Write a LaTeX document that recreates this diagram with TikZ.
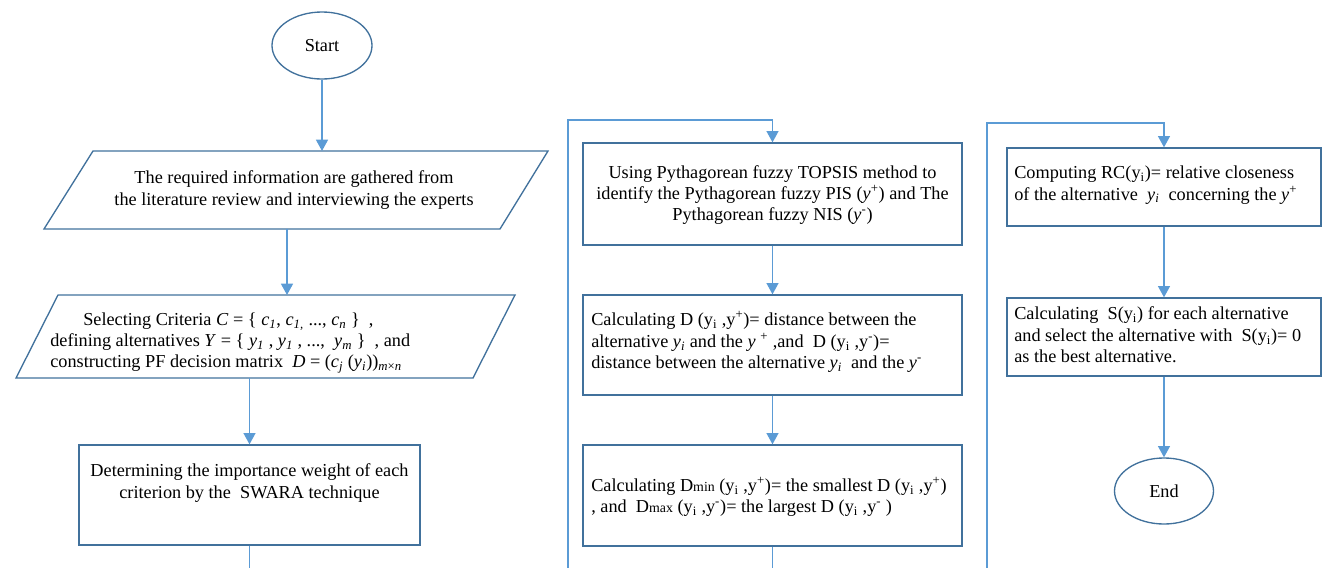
\documentclass[tikz,border=0pt]{standalone}
\usepackage{fontspec}
\setmainfont{Liberation Serif}
\usetikzlibrary{arrows.meta,shapes.geometric}
\definecolor{conn}{HTML}{5B9BD5}
\definecolor{bord}{HTML}{41719C}
\newdimen\pxu \pxu=0.75pt
\newcommand{\isub}[2]{\textit{#1}\textsubscript{\textit{#2}}}
\newcommand{\dsub}[1]{{\fontsize{10.4}{10.4}\selectfont #1}}
\begin{document}
\begin{tikzpicture}[x=0.75pt,y=-0.75pt,
  box/.style={draw=bord,line width=1pt,rectangle,inner sep=0pt},
  term/.style={draw=bord,line width=1pt,ellipse,inner sep=0pt,font=\fontsize{13.7}{16}\selectfont},
  arr/.style={draw=conn,line width=1.1pt,-{Triangle[length=8.5pt,width=9pt]}},
  lin/.style={draw=conn,line width=1.1pt},
  txtc/.style={inner sep=0pt,font=\fontsize{13.7}{16}\selectfont,align=center},
  txtl/.style={inner sep=0pt,font=\fontsize{13.7}{16}\selectfont,align=left,anchor=west}]
\useasboundingbox (0,0) rectangle (1322,568);

% terminals
\node[term,minimum width=100\pxu,minimum height=67\pxu] (start) at (322,45.5) {Start};
\node[term,minimum width=99\pxu,minimum height=66\pxu] (end) at (1164,491) {End};

% parallelogram 1
\draw[bord,line width=1pt] (93,151) -- (548,151) -- (500,229) -- (44,229) -- cycle;
\node[txtc] (p1) at (294,190) {The required information are gathered from\\the literature review and interviewing the experts};
\coordinate (p1t) at (322,151);
\coordinate (p1b) at (287,229);

% parallelogram 2
\draw[bord,line width=1pt] (58,295) -- (515,295) -- (473,378) -- (16,378) -- cycle;
\node[txtl] (p2) at (50,343) {\hspace*{33\pxu}Selecting Criteria \textit{C} = \{ \isub{c}{1}, \isub{c}{1,} ..., \isub{c}{n} \}~ ,\\
defining alternatives \textit{Y} = \{ \isub{y}{1} , \isub{y}{1} , ..., ~\isub{y}{m} \}~ , and\\
constructing PF decision matrix ~\textit{D} = (\isub{c}{j} (\isub{y}{i}))\textsubscript{\textit{m}×\textit{n}}};
\coordinate (p2t) at (287,295);
\coordinate (p2b) at (249.5,378);

% SWARA box
\node[box,minimum width=341\pxu,minimum height=100\pxu] (swara) at (249.5,495) {};
\node[txtc] (swarat) at (249.5,483) {Determining the importance weight of each\\criterion by the ~SWARA technique};

% middle column
\node[box,minimum width=379\pxu,minimum height=102\pxu] (topsis) at (772.5,194) {};
\node[txtc] (topsist) at (772.5,195) {Using Pythagorean fuzzy TOPSIS method to\\identify the Pythagorean fuzzy PIS (\textit{y}\textsuperscript{+}) and The\\Pythagorean fuzzy NIS (\textit{y}\textsuperscript{-})};

\node[box,minimum width=379\pxu,minimum height=100\pxu] (dbox) at (772.5,345) {};
\node[txtl] (dboxt) at (591,342) {Calculating D (y\textsubscript{i} ,y\textsuperscript{+})= distance between the\\
alternative \isub{y}{i} and the \textit{y} \textsuperscript{+} ,and ~D (y\textsubscript{i} ,y\textsuperscript{-})=\\
distance between the alternative \isub{y}{i} ~and the \textit{y}\textsuperscript{-}};

\node[box,minimum width=379\pxu,minimum height=101\pxu] (dmin) at (772.5,495.5) {};
\node[txtl] (dmint) at (591,497) {Calculating D\dsub{min} (y\textsubscript{i} ,y\textsuperscript{+})= the smallest D (y\textsubscript{i} ,y\textsuperscript{+})\\
, and ~D\dsub{max} (y\textsubscript{i} ,y\textsuperscript{-})= the largest D (y\textsubscript{i} ,y\textsuperscript{-} )};

% right column
\node[box,minimum width=314\pxu,minimum height=78\pxu] (rc) at (1164,187) {};
\node[txtl] (rct) at (1014,185) {Computing RC(y\textsubscript{i})= relative closeness\\
of the alternative ~\isub{y}{i} ~concerning the \textit{y}\textsuperscript{+}};

\node[box,minimum width=314\pxu,minimum height=78\pxu] (sbox) at (1164,337) {};
\node[txtl] (sboxt) at (1014,335) {Calculating ~S(y\textsubscript{i}) for each alternative\\
and select the alternative with ~S(y\textsubscript{i})= 0\\
as the best alternative.};

% connector coordinates
\coordinate (c1) at (249.5,570);
\coordinate (c2) at (568,570);
\coordinate (c2top) at (568,120);
\coordinate (c3) at (772.5,570);
\coordinate (c4) at (987,570);
\coordinate (c4top) at (987,123);

% connectors
\draw[arr] (start.south) -- (p1t);
\draw[arr] (p1b) -- (p2t);
\draw[arr] (p2b) -- (swara.north);
\draw[lin] (swara.south) -- (c1);
\draw[arr] (c2) -- (c2top) -| (topsis.north);
\draw[arr] (topsis.south) -- (dbox.north);
\draw[arr] (dbox.south) -- (dmin.north);
\draw[lin] (dmin.south) -- (c3);
\draw[arr] (c4) -- (c4top) -| (rc.north);
\draw[arr] (rc.south) -- (sbox.north);
\draw[arr] (sbox.south) -- (end.north);
\end{tikzpicture}
\end{document}
